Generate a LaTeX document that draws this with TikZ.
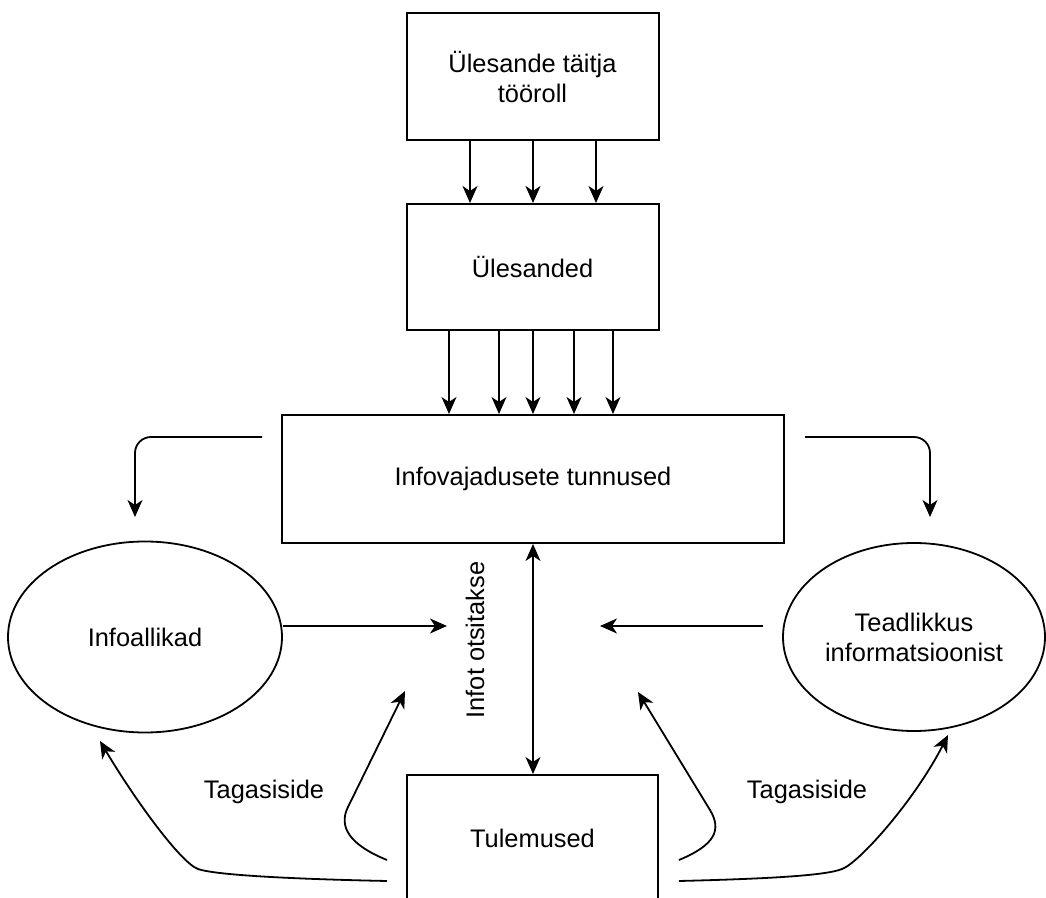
\documentclass[tikz,border=0pt]{standalone}
\usepackage{fontspec}
\setmainfont{Liberation Sans}
\usepackage{tikz}
\usetikzlibrary{arrows.meta,shapes.geometric,positioning}
\tikzset{
mybox/.style={
  rectangle,
  draw=black,
  line width=1pt,
  align=center,
  inner sep=0pt
  },
myell/.style={
  ellipse,
  draw=black,
  line width=0.9pt,
  align=center,
  inner sep=0pt
  },
myarrow/.style={
  -{Stealth[length=8.5pt,width=7.5pt,inset=2.5pt]},
  line width=0.9pt
  }
}

\begin{document}
\begin{tikzpicture}[x=0.5pt,y=-0.5pt,font=\fontsize{12.7}{15}\selectfont]
\useasboundingbox (0,0) rectangle (1046,898);
\clip (0,0) rectangle (1046,898);
% boxes
\node[mybox,minimum width=126pt,minimum height=63.5pt] (role) at (532.5,76.5)
  {\"Ulesande t\"aitja\\t\"o\"oroll};
\node[mybox,minimum width=126pt,minimum height=63pt] (tasks) at (532.5,267) {\"Ulesanded};
\node[mybox,minimum width=251pt,minimum height=64pt] (needs) at (533,479)
  {Infovajadusete tunnused};
\node[mybox,minimum width=125.5pt,minimum height=63pt] (results) at (532.5,838) {Tulemused};
% ellipses
\node[myell,minimum width=137pt,minimum height=95.5pt] (sources) at (145,637) {Infoallikad};
\node[myell,minimum width=131pt,minimum height=94pt] (aware) at (914,637)
  {Teadlikkus\\informatsioonist};
% labels
\node[rotate=90] (seek) at (475,640) {Infot otsitakse};
\node (fbL) at (264,792) {Tagasiside};
\node (fbR) at (807,792) {Tagasiside};
% free ends
\coordinate (needsL) at (262,437);
\coordinate (needsR) at (805,437);
\coordinate (toSources) at (135,517);
\coordinate (toAware) at (930,517);
\coordinate (seekL) at (447,626);
\coordinate (seekR) at (600,626);
\coordinate (awareL) at (763,626);
\coordinate (resLa) at (387,881);
\coordinate (resLb) at (387,860);
\coordinate (resRa) at (679,881);
\coordinate (resRb) at (679,860);
\coordinate (fbSources) at (100,741);
\coordinate (fbSeekL) at (405,691);
\coordinate (fbSeekR) at (638,692);
\coordinate (fbAware) at (948,735);
% arrows down
\foreach \x in {470,533,596}
  \draw[myarrow] (role.south -| \x,0) -- (tasks.north -| \x,0);
\foreach \x in {449,499,533,574,613}
  \draw[myarrow] (tasks.south -| \x,0) -- (needs.north -| \x,0);
% elbows
\draw[myarrow,rounded corners=8pt] (needsL) -| (toSources);
\draw[myarrow,rounded corners=8pt] (needsR) -| (toAware);
% into the search
\draw[myarrow] (sources.east |- seekL) -- (seekL);
\draw[myarrow] (awareL) -- (seekR);
\draw[{Stealth[length=8.5pt,width=7.5pt,inset=2.5pt]}-{Stealth[length=8.5pt,width=7.5pt,inset=2.5pt]},
  line width=0.9pt] (needs.south) -- (needs.south |- results.north);
% feedback
\draw[myarrow] (resLa) .. controls (290,879) and (215,875) .. (198,869)
  .. controls (181,863) and (135,800) .. (fbSources);
\draw[myarrow] (resLb) .. controls (350,845) and (338,827) .. (348,807) -- (fbSeekL);
\draw[myarrow] (resRb) .. controls (715,845) and (722,830) .. (710,810) -- (fbSeekR);
\draw[myarrow] (resRa) .. controls (760,879) and (825,876) .. (842,869)
  .. controls (859,863) and (915,800) .. (fbAware);
\end{tikzpicture}
\end{document}
